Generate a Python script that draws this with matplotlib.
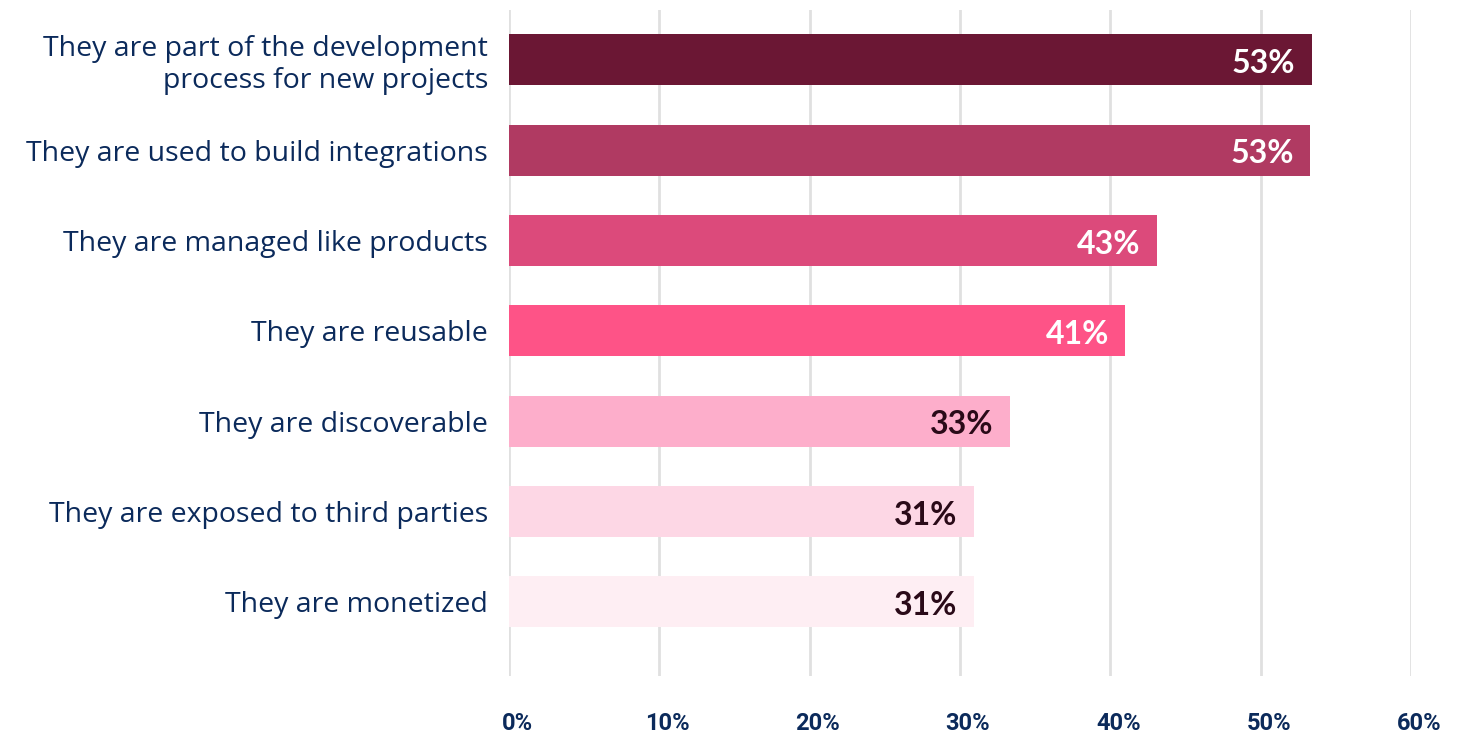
import matplotlib
matplotlib.use("Agg")
import numpy as np
from matplotlib import pyplot as plt
from matplotlib.transforms import ScaledTranslation

# data
labels = [
    "They are part of the development\nprocess for new projects",
    "They are used to build integrations",
    "They are managed like products",
    "They are reusable",
    "They are discoverable",
    "They are exposed to third parties",
    "They are monetized",
]
values = [53.4, 53.3, 43.1, 41.0, 33.3, 30.9, 30.9]
value_text = ["53%", "53%", "43%", "41%", "33%", "31%", "31%"]
bar_colors = ["#6b1734", "#b03a62", "#dc4a7b", "#fe5387", "#fdaecb", "#fdd7e5", "#feeef3"]
text_colors = ["white", "white", "white", "white", "#2a0a18", "#2a0a18", "#2a0a18"]
ticks = [0, 10, 20, 30, 40, 50, 60]

navy = "#0b2a5b"

fig = plt.figure(figsize=(14.79, 7.40), dpi=100)
ax = fig.add_axes([509 / 1479, 1 - 676 / 740, (1411 - 509) / 1479, (676 - 10) / 740])

y = np.arange(len(labels))
ax.barh(y, values, height=0.565, color=bar_colors, zorder=2)

for yi, v, t, c in zip(y, values, value_text, text_colors):
    ax.text(v - 1.1, yi + 0.04, t, ha="right", va="center", color=c,
            fontsize=23, fontweight="bold", family=["Lato", "DejaVu Sans"], zorder=3)

ax.set_ylim(6.82, -0.55)
ax.set_xlim(0, 60)
ax.set_yticks(y)
ax.set_yticklabels(labels, fontsize=20.5, color=navy, family=["Open Sans", "DejaVu Sans"],
                   fontweight="medium", linespacing=1.2)
ax.tick_params(axis="y", length=0, pad=15)

ax.set_xticks(ticks)
ax.set_xticklabels([f"{t}%" for t in ticks], fontsize=17, fontweight="bold", color=navy,
                   family=["Roboto", "DejaVu Sans"])
ax.tick_params(axis="x", length=0, pad=26)
shift = ScaledTranslation(8 / 100, 0, fig.dpi_scale_trans)
for lab in ax.get_xticklabels():
    lab.set_transform(lab.get_transform() + shift)

ax.grid(axis="x", color="#e0e0e0", linewidth=2, zorder=0)
for s in ax.spines.values():
    s.set_visible(False)

fig.savefig("out.png", dpi=100)
